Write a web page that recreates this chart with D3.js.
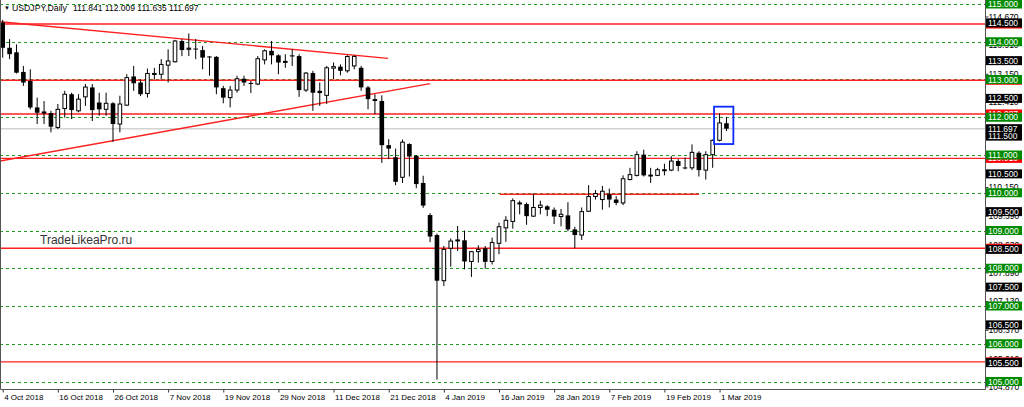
<!DOCTYPE html>
<html>
<head>
<meta charset="utf-8">
<script src="https://cdn.jsdelivr.net/npm/d3@7"></script>
<style>
body { margin: 0; background: #fff; }
svg { display: block; font-family: "Liberation Sans", Arial, sans-serif; }
</style>
</head>
<body>
<div id="chart"></div>
<script>
var width = 1024;
var height = 407;
var plotRight = 985;
var plotBottom = 389;
var firstX = 2.7;
var barStep = 6.893;

// daily bars, 4 Oct 2018 .. 4 Mar 2019
var dates = [
  "2018-10-04","2018-10-05","2018-10-08","2018-10-09","2018-10-10","2018-10-11","2018-10-12","2018-10-15","2018-10-16","2018-10-17",
  "2018-10-18","2018-10-19","2018-10-22","2018-10-23","2018-10-24","2018-10-25","2018-10-26","2018-10-29","2018-10-30","2018-10-31",
  "2018-11-01","2018-11-02","2018-11-05","2018-11-06","2018-11-07","2018-11-08","2018-11-09","2018-11-12","2018-11-13","2018-11-14",
  "2018-11-15","2018-11-16","2018-11-19","2018-11-20","2018-11-21","2018-11-22","2018-11-23","2018-11-26","2018-11-27","2018-11-28",
  "2018-11-29","2018-11-30","2018-12-03","2018-12-04","2018-12-05","2018-12-06","2018-12-07","2018-12-10","2018-12-11","2018-12-12",
  "2018-12-13","2018-12-14","2018-12-17","2018-12-18","2018-12-19","2018-12-20","2018-12-21","2018-12-24","2018-12-26","2018-12-27",
  "2018-12-28","2018-12-31","2019-01-02","2019-01-03","2019-01-04","2019-01-07","2019-01-08","2019-01-09","2019-01-10","2019-01-11",
  "2019-01-14","2019-01-15","2019-01-16","2019-01-17","2019-01-18","2019-01-21","2019-01-22","2019-01-23","2019-01-24","2019-01-25",
  "2019-01-28","2019-01-29","2019-01-30","2019-01-31","2019-02-01","2019-02-04","2019-02-05","2019-02-06","2019-02-07","2019-02-08",
  "2019-02-11","2019-02-12","2019-02-13","2019-02-14","2019-02-15","2019-02-18","2019-02-19","2019-02-20","2019-02-21","2019-02-22",
  "2019-02-25","2019-02-26","2019-02-27","2019-02-28","2019-03-01","2019-03-04"
];
var open = [
  114.51,113.84,113.72,113.20,112.96,112.26,112.12,112.11,111.73,112.23,
  112.61,112.17,112.54,112.79,112.39,112.21,112.37,111.82,112.32,113.08,
  112.92,112.63,113.14,113.14,113.38,113.47,114.02,113.80,113.82,113.78,
  113.61,113.60,112.77,112.52,112.72,113.02,112.91,112.88,113.52,113.76,
  113.64,113.46,113.64,113.62,112.72,113.17,112.70,112.58,113.30,113.34,
  113.23,113.36,113.31,112.79,112.48,112.43,111.26,110.94,110.41,111.29,
  110.98,110.26,109.41,108.88,107.67,108.53,108.73,108.74,108.18,108.44,
  108.53,108.18,108.66,109.07,109.24,109.71,109.70,109.38,109.61,109.64,
  109.55,109.37,109.40,109.03,108.88,109.51,109.90,109.82,109.96,109.82,
  109.73,110.35,110.46,111.01,110.48,110.46,110.60,110.60,110.84,110.67,
  110.66,111.06,110.60,111.01,111.39,111.841
];
var high = [
  114.58,114.07,113.93,113.36,113.27,112.52,112.43,112.17,112.35,112.70,
  112.65,112.61,112.88,112.88,112.65,112.65,112.40,112.57,113.14,113.36,
  113.00,113.29,113.31,113.54,113.80,114.05,114.07,114.22,114.07,113.89,
  113.62,113.62,112.83,112.83,113.10,113.10,112.96,113.62,113.80,114.02,
  113.67,113.67,113.80,113.67,113.20,113.23,112.92,113.36,113.45,113.40,
  113.64,113.64,113.36,112.83,112.61,112.58,111.42,111.17,111.41,111.31,
  111.00,110.45,109.46,108.92,108.59,108.79,109.12,109.00,108.46,108.61,
  108.59,108.81,109.21,109.38,109.85,109.79,109.74,109.98,109.79,109.67,
  109.61,109.57,109.75,109.10,109.61,110.20,110.07,110.18,110.11,109.91,
  110.46,110.66,111.10,111.14,110.66,110.66,110.77,110.97,110.89,110.93,
  111.28,111.10,111.10,111.41,112.10,112.009
];
var low = [
  113.58,113.54,113.16,112.83,112.21,111.82,111.82,111.60,111.69,111.99,
  111.95,112.13,112.30,111.90,112.04,112.04,111.35,111.60,112.30,112.70,
  112.56,112.52,113.00,113.00,112.92,113.45,113.62,113.62,113.54,113.27,
  113.10,112.61,112.37,112.26,112.65,112.83,112.64,112.85,113.40,113.40,
  113.14,113.31,113.36,112.54,112.67,112.17,112.30,112.35,113.01,113.11,
  113.18,113.27,112.70,112.21,112.08,110.79,110.89,110.20,110.26,110.43,
  110.12,109.60,108.69,105.05,107.53,108.04,108.46,107.97,107.77,108.15,
  107.99,108.10,108.37,108.70,109.05,109.43,109.15,109.36,109.43,109.38,
  109.17,109.11,108.98,108.53,108.75,109.49,109.82,109.55,109.61,109.67,
  109.67,110.33,110.43,110.43,110.26,110.44,110.46,110.57,110.57,110.62,
  110.60,110.43,110.35,110.66,111.36,111.635
];
var close = [
  113.84,113.67,113.18,112.92,112.26,112.12,112.14,111.75,112.21,112.61,
  112.19,112.48,112.80,112.19,112.21,112.37,111.82,112.35,113.05,112.90,
  112.61,113.16,113.16,113.40,113.49,114.02,113.78,113.83,113.80,113.58,
  113.59,112.79,112.52,112.72,113.02,112.92,112.89,113.55,113.76,113.64,
  113.45,113.48,113.61,112.72,113.17,112.65,112.64,113.31,113.34,113.23,
  113.61,113.61,112.79,112.48,112.43,111.26,111.17,110.29,111.34,110.96,
  110.23,109.66,108.84,107.67,108.50,108.72,108.75,108.18,108.44,108.50,
  108.17,108.68,109.10,109.27,109.79,109.73,109.38,109.61,109.67,109.55,
  109.37,109.43,109.03,108.88,109.50,109.90,109.98,110.04,109.82,109.73,
  110.37,110.48,111.01,110.46,110.43,110.61,110.61,110.84,110.71,110.66,
  111.07,110.60,111.01,111.39,111.85,111.697
];

var symbol = "USDJPY,Daily";
var watermark = "TradeLikeaPro.ru";
var xTickDates = ["2018-10-04","2018-10-16","2018-10-26","2018-11-07","2018-11-19","2018-11-29","2018-12-11",
                  "2018-12-21","2019-01-04","2019-01-16","2019-01-28","2019-02-07","2019-02-19","2019-03-01"];
var scaleTicks = [104.87,105.61,106.37,107.13,107.89,108.63,109.39,110.15,110.89,111.65,112.41,113.15,113.91,114.67];
var greenLevels = [105,106,107,108,109,110,111,112,113,114,115];
var blackLevels = [105.5,106.5,107.5,108.5,109.5,110.5,111.5,112.5,113.5,114.5];
var redLevels = [114.47,112.98,112.087,110.91,108.53,105.52];
var bidPrice = 111.697;
// trend lines as [bar index, price]
var trendDown = [[-0.39,114.53],[55.9,113.56]];
var trendUp = [[-0.39,110.84],[62.0,112.89]];
var segment110 = [[72.1,109.96],[101.0,109.96]];
var blueBox = {i0: 103.2, i1: 106.0, top: 112.28, bottom: 111.29};

var parse = d3.timeParse("%Y-%m-%d");
var fmt = d3.timeFormat("%-d %b %Y");
var f3 = d3.format(".3f");

var svg = d3.select("#chart")
            .append("svg")
            .attr("width", width)
            .attr("height", height);

var x = d3.scaleLinear()
          .domain([0, 1])
          .range([firstX, firstX + barStep]);
var y = d3.scaleLinear()
          .domain([105, 115])
          .range([381.5, 4]);

svg.append("clipPath").attr("id", "plot")
   .append("rect").attr("x", 0).attr("y", 0).attr("width", plotRight).attr("height", plotBottom);

var plot = svg.append("g").attr("clip-path", "url(#plot)");

// bid line
plot.append("line")
    .attr("x1", 0).attr("x2", plotRight)
    .attr("y1", y(bidPrice)).attr("y2", y(bidPrice))
    .attr("stroke", "#d2d2d2").attr("stroke-width", 1.5);

plot.selectAll(".green")
    .data(greenLevels)
    .enter().append("line")
    .attr("class", "green")
    .attr("x1", 0).attr("x2", plotRight)
    .attr("y1", function(d){ return Math.round(y(d)) + 0.5; })
    .attr("y2", function(d){ return Math.round(y(d)) + 0.5; })
    .attr("stroke", "#1f9a1f").attr("stroke-width", 1)
    .attr("stroke-dasharray", "3,3");

plot.selectAll(".red")
    .data(redLevels)
    .enter().append("line")
    .attr("class", "red")
    .attr("x1", 0).attr("x2", plotRight)
    .attr("y1", function(d){ return y(d); })
    .attr("y2", function(d){ return y(d); })
    .attr("stroke", "#ff2020").attr("stroke-width", 1.4);

var line = d3.line()
             .x(function(d){ return x(d[0]); })
             .y(function(d){ return y(d[1]); });

[trendDown, trendUp, segment110].forEach(function(t){
  plot.append("path")
      .datum(t)
      .attr("d", line)
      .attr("fill", "none")
      .attr("stroke", "#ff2020")
      .attr("stroke-width", 1.4);
});

// candles
var bars = plot.selectAll(".bar")
               .data(dates)
               .enter().append("g")
               .attr("class", "bar");

bars.append("line")
    .attr("x1", function(d, i){ return x(i); })
    .attr("x2", function(d, i){ return x(i); })
    .attr("y1", function(d, i){ return y(high[i]); })
    .attr("y2", function(d, i){ return y(low[i]); })
    .attr("stroke", "#000").attr("stroke-width", 1);

bars.append("rect")
    .attr("x", function(d, i){ return close[i] >= open[i] ? x(i) - 1.8 : x(i) - 2.3; })
    .attr("width", function(d, i){ return close[i] >= open[i] ? 3.6 : 4.6; })
    .attr("y", function(d, i){ return y(Math.max(open[i], close[i])); })
    .attr("height", function(d, i){ return Math.max(1, Math.abs(y(open[i]) - y(close[i]))); })
    .attr("fill", function(d, i){ return close[i] >= open[i] ? "#fff" : "#000"; })
    .attr("stroke", "#000")
    .attr("stroke-width", function(d, i){ return close[i] >= open[i] ? 1 : 0; });

plot.append("rect")
    .attr("x", x(blueBox.i0))
    .attr("y", y(blueBox.top))
    .attr("width", x(blueBox.i1) - x(blueBox.i0))
    .attr("height", y(blueBox.bottom) - y(blueBox.top))
    .attr("fill", "none")
    .attr("stroke", "#0a2cff")
    .attr("stroke-width", 1.8);

// frame
svg.append("path")
   .attr("d", "M0.5,0V" + (plotBottom + 0.5) + "H" + (plotRight + 0.5) + "V0")
   .attr("fill", "none")
   .attr("stroke", "#555");

// x axis
var xAxis = d3.axisBottom(x)
              .tickValues(xTickDates.map(function(d){ return dates.indexOf(d); }))
              .tickSize(3)
              .tickPadding(2)
              .tickFormat(function(i){ return fmt(parse(dates[i])); });
var gx = svg.append("g")
            .attr("transform", "translate(0," + (plotBottom + 0.5) + ")")
            .call(xAxis);
gx.select(".domain").remove();
gx.selectAll("line").attr("stroke", "#333");
gx.selectAll("text")
  .attr("text-anchor", "start")
  .attr("x", 1)
  .attr("fill", "#000")
  .style("font-size", "8px")
  .style("font-family", "Liberation Sans, Arial, sans-serif");

// price axis
var yAxis = d3.axisRight(y)
              .tickValues(scaleTicks)
              .tickSize(3)
              .tickPadding(0)
              .tickFormat(f3);
var gy = svg.append("g")
            .attr("transform", "translate(" + (plotRight + 0.5) + ",0)")
            .call(yAxis);
gy.select(".domain").remove();
gy.selectAll("line").attr("stroke", "#333");
gy.selectAll("text")
  .attr("fill", "#000")
  .style("font-size", "8.5px")
  .style("font-family", "Liberation Sans, Arial, sans-serif");

var tags = [];
redLevels.forEach(function(p){ tags.push({p: p, c: "#ff0000"}); });
blackLevels.forEach(function(p){ tags.push({p: p, c: "#000"}); });
tags.push({p: bidPrice, c: "#000"});
greenLevels.forEach(function(p){ tags.push({p: p, c: "#008a00"}); });

var tag = svg.selectAll(".tag")
             .data(tags)
             .enter().append("g")
             .attr("class", "tag")
             .attr("transform", function(d){ return "translate(986," + y(d.p) + ")"; });
tag.append("rect")
   .attr("x", 0).attr("y", -4.5)
   .attr("width", 36).attr("height", 9)
   .attr("fill", function(d){ return d.c; });
tag.append("text")
   .attr("x", 2).attr("y", 3)
   .attr("fill", "#fff")
   .style("font-size", "8.5px")
   .text(function(d){ return f3(d.p); });

// title
svg.append("text")
   .attr("x", 4).attr("y", 10)
   .style("font-size", "6px")
   .attr("fill", "#000")
   .text("\u25BC");
svg.append("text")
   .attr("x", 12).attr("y", 11)
   .style("font-size", "8.7px")
   .attr("fill", "#000")
   .text(symbol);
svg.append("text")
   .attr("x", 73).attr("y", 11)
   .style("font-size", "8.5px")
   .attr("fill", "#000")
   .text([open[open.length-1], high[high.length-1], low[low.length-1], close[close.length-1]].map(f3).join(" "));

svg.append("text")
   .attr("x", 40).attr("y", 244)
   .style("font-size", "12px")
   .attr("fill", "#333")
   .text(watermark);
</script>
</body>
</html>
